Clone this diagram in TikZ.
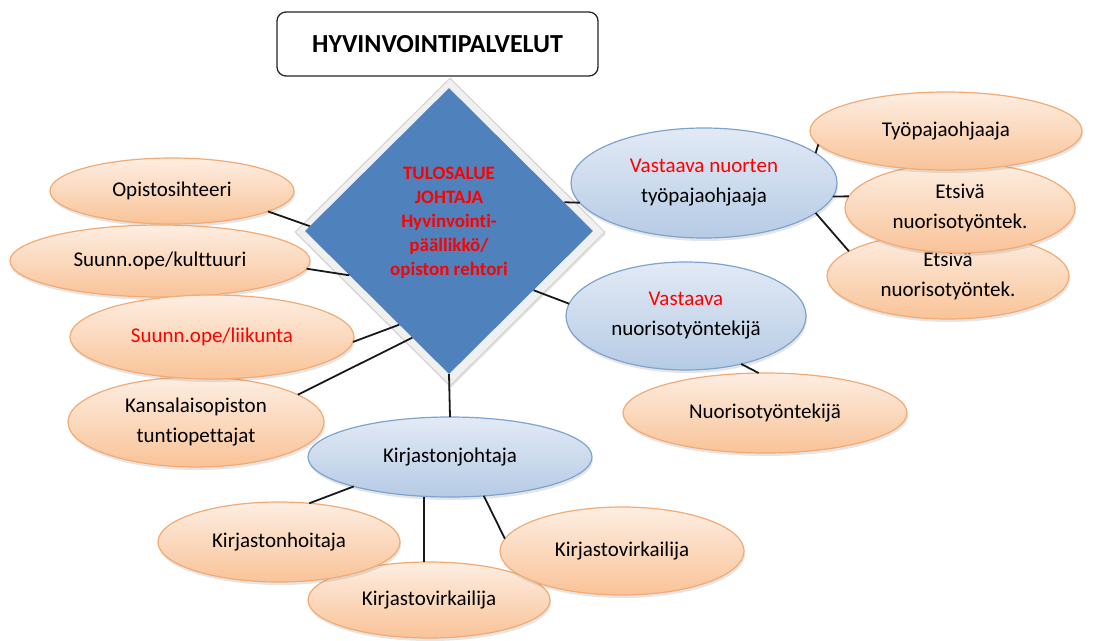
\documentclass[tikz,border=0pt]{standalone}
\usepackage{fontspec}
\setmainfont{Carlito}[Ligatures={NoCommon}]
\usetikzlibrary{shapes.geometric,shadows}

\definecolor{boxblue}{RGB}{79,129,189}
\definecolor{peachtop}{RGB}{253,238,226}
\definecolor{peachbot}{RGB}{249,195,152}
\definecolor{peachline}{RGB}{243,170,115}
\definecolor{skytop}{RGB}{226,234,245}
\definecolor{skybot}{RGB}{182,203,229}
\definecolor{skyline}{RGB}{126,163,208}
\definecolor{hotred}{RGB}{255,0,0}

\begin{document}
\begin{tikzpicture}[x=1pt,y=-1pt,
  font=\fontsize{21}{30}\selectfont,
  wh/.style 2 args={minimum width=#1pt,minimum height=#2pt},
  blob/.style={ellipse,inner sep=0pt,outer sep=0pt,align=center,line width=1.2pt,
    drop shadow={shadow xshift=1pt,shadow yshift=-3pt,opacity=.2}},
  peach/.style={blob,draw=peachline,top color=peachtop,bottom color=peachbot},
  sky/.style={blob,draw=skyline,top color=skytop,bottom color=skybot},
  wire/.style={line width=1.8pt,black!90}]
  \useasboundingbox[fill=white] (0,0) rectangle (1099,640);

  % title
  \node[draw=black!85,rounded corners=9pt,line width=1.3pt,wh={321}{64},
    font=\fontsize{26}{30}\selectfont\bfseries] (title) at (437.5,44) {HYVINVOINTIPALVELUT};

  % the boss
  \node[diamond,inner sep=0pt,wh={310}{308},fill=gray!12,draw=gray!35,line width=1pt,
    drop shadow={shadow xshift=1pt,shadow yshift=-2pt,opacity=.2}] (frame) at (450,232) {};
  \node[diamond,inner sep=0pt,wh={288}{286},fill=boxblue] (boss) at (449,231) {};
  \node[align=center,text=hotred,font=\fontsize{19}{24}\selectfont\bfseries] (bosstext) at (449,223)
    {TULOSALUE\\JOHTAJA\\Hyvinvointi-\\päällikkö/\\opiston rehtori};

  % left side
  \node[peach,wh={244}{66}] (opi) at (172,191) {Opistosihteeri};
  \node[peach,wh={300}{72}] (kult) at (160,261) {Suunn.ope/kulttuuri};
  \node[peach,wh={256}{90}] (kansa) at (196,422) {Kansalaisopiston\\tuntiopettajat};
  \node[peach,wh={284}{84},text=hotred] (liik) at (212,337) {Suunn.ope/liikunta};

  % youth work
  \node[sky,wh={266}{110}] (vn) at (704,183) {\textcolor{hotred}{Vastaava nuorten}\\työpajaohjaaja};
  \node[sky,wh={240}{108}] (vnt) at (686,316) {\textcolor{hotred}{Vastaava}\\nuorisotyöntekijä};
  \node[peach,wh={242}{86}] (ets2) at (948,276) {Etsivä\\nuorisotyöntek.};
  \node[peach,wh={230}{90}] (ets1) at (960,208) {Etsivä\\nuorisotyöntek.};
  \node[peach,wh={272}{78}] (tyo) at (946,131) {Työpajaohjaaja};
  \node[peach,wh={284}{80}] (nuor) at (765,413) {Nuorisotyöntekijä};

  % library
  \node[sky,wh={284}{80}] (kj) at (450,457) {Kirjastonjohtaja};
  \node[peach,wh={242}{76}] (kvb) at (429,600) {Kirjastovirkailija};
  \node[peach,wh={244}{88}] (kvr) at (622,551) {Kirjastovirkailija};
  \node[peach,wh={242}{80}] (khoit) at (279,542) {Kirjastonhoitaja};

  % connectors
  \foreach \a/\b in {opi.-12/boss.178, kult.-3/boss.204, liik.-2/boss.242,
      kansa.15/boss.251, boss.14/vn.189, boss.-35/vnt.174, boss.south/kj.north,
      vn.15/tyo.186, vn.-6/ets1.174, vn.-15/ets2.166, vnt.-41/nuor.99,
      kj.197/khoit.52, kj.-49/kvr.174}
    \draw[wire] (\a) -- (\b);
  \draw[wire] (kvb.97) -- (kvb.97 |- kj.south);
\end{tikzpicture}
\end{document}
